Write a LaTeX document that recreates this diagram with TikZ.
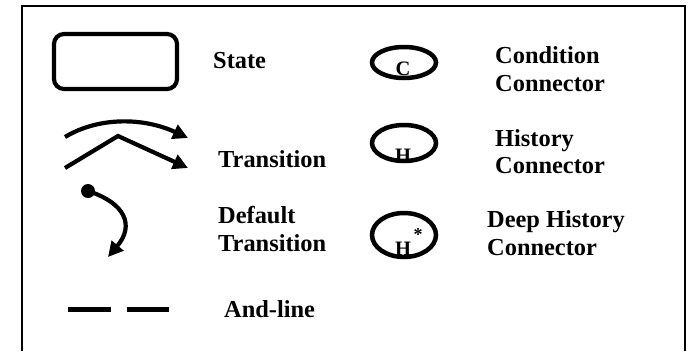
\documentclass[tikz,border=0pt]{standalone}
\usepackage{fontspec}
\setmainfont{Liberation Serif}
\usetikzlibrary{arrows.meta,shapes.geometric}
\begin{document}
\begin{tikzpicture}[x=1pt,y=-1pt,
  lbl/.style={font=\fontsize{24.4}{28}\selectfont\bfseries, anchor=base west, inner sep=0pt},
  letter/.style={font=\fontsize{20.5}{24}\selectfont\bfseries, anchor=base, inner sep=0pt},
  sym/.style={line width=4.2pt},
  tipped/.style={sym, -{Triangle[length=15pt,width=15pt]}},
  conn/.style={ellipse, draw, line width=4.5pt, inner sep=0pt, minimum width=64pt}]
\useasboundingbox (0,0) rectangle (692,351);

% legend frame (open at the bottom)
\draw[line width=1.5pt] (22,351) -- (22,6) -- (685,6) -- (685,351);

% state
\draw[sym, rounded corners=10pt] (54,34) rectangle (177,89);
\node[lbl] (tstate) at (213,68) {State};

% transitions
\draw[tipped] (65,137) .. controls (100,116) and (145,118) .. (188,138);
\draw[tipped] (65,168) -- (118,136) -- (188,168);
\node[lbl] (ttrans) at (218,167) {Transition};

% default transition
\node[circle, fill, inner sep=0pt, minimum size=14pt] (dot) at (88,191) {};
\coordinate (dend) at (108,257);
\draw[tipped] (dot.center) .. controls (125,203) and (135,225) .. (dend);
\node[lbl] (tdef1) at (218,223) {Default};
\node[lbl] (tdef2) at (218,251) {Transition};

% and-line
\draw[line width=5pt, dash pattern=on 43pt off 16pt] (68,309) -- (169,309);
\node[lbl] (tand) at (224,317) {And-line};

% condition connector
\node[conn, minimum height=31pt] (cc) at (404,62.5) {};
\node[letter] (cl) at (403,75) {C};
\node[lbl] (tc1) at (495,63) {Condition};
\node[lbl] (tc2) at (495,91) {Connector};

% history connector
\node[conn, minimum height=36pt] (hc) at (404,143) {};
\node[letter] (hl) at (403,162) {H};
\node[lbl] (th1) at (495,146) {History};
\node[lbl] (th2) at (495,173) {Connector};

% deep history connector
\node[conn, minimum height=44pt] (dc) at (404,235) {};
\node[letter] (dl) at (403,255) {H};
\node[font=\fontsize{18}{20}\selectfont\bfseries, anchor=base, inner sep=0pt] (ds) at (418,240) {*};
\node[lbl] (td1) at (487,227) {Deep History};
\node[lbl] (td2) at (487,255) {Connector};
\end{tikzpicture}
\end{document}
